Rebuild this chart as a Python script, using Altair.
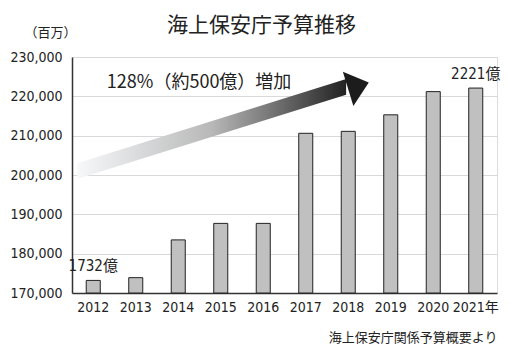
import altair as alt
import pandas as pd

# ---- data ----
years = ["2012", "2013", "2014", "2015", "2016", "2017", "2018", "2019", "2020", "2021年"]
budget = [173200, 173900, 183500, 187700, 187700, 210600, 211100, 215300, 221200, 222100]
bar_labels = ["1732億", "", "", "", "", "", "", "", "", "2221億"]
y_ticks = [170000, 180000, 190000, 200000, 210000, 220000, 230000]

title_text = "海上保安庁予算推移"
unit_text = "（百万）"
source_text = "海上保安庁関係予算概要より"
arrow_text = "128%（約500億）増加"

# arrow annotation in data units (x: band index 0..10, y: 百万円)
arrow_x = [0.12, 6.45]
arrow_low = [199000, 220400]
arrow_high = [203000, 224400]
head_x = [6.74]
head_y = [222700]
text_x = [0.82]
text_y = [223400]

NUM_FONT = "Liberation Sans Narrow, DejaVu Sans Condensed, Noto Sans CJK JP"
JP_FONT = "Noto Sans CJK JP"

bars_df = pd.DataFrame({"year": years, "value": budget, "label": bar_labels})
shaft_df = pd.DataFrame({"ax": arrow_x, "lo": arrow_low, "hi": arrow_high})
head_df = pd.DataFrame({"ax": head_x, "ay": head_y})
text_df = pd.DataFrame({"ax": text_x, "ay": text_y, "t": [arrow_text]})

yscale = alt.Scale(domain=[170000, 230000], zero=False, nice=False)
xq = alt.X("ax:Q", scale=alt.Scale(domain=[0, 10], nice=False, zero=False), axis=None)

y_axis = alt.Axis(title=unit_text, values=y_ticks, tickCount=7,
                  format=",d", labelFont=NUM_FONT, labelFontSize=14,
                  labelColor="#222", labelPadding=10, labelOverlap=False,
                  ticks=False, tickSize=0,
                  domainColor="#333", domainWidth=1.5,
                  gridColor="#d9d9d9", gridWidth=1,
                  titleAngle=0, titleFont=JP_FONT, titleFontSize=13,
                  titleFontWeight="normal", titleColor="#222",
                  titleX=-22, titleY=-25, titleAlign="center",
                  titleBaseline="middle")

bars = alt.Chart(bars_df).mark_bar(
    fill="#c0c0c0", stroke="#222222", strokeWidth=1
).encode(
    x=alt.X("year:N", sort=years,
            scale=alt.Scale(paddingInner=0.67, paddingOuter=0.335),
            axis=alt.Axis(title=source_text, labelAngle=0, labelFont=NUM_FONT,
                          labelFontSize=14, labelColor="#222", labelPadding=7,
                          labelOverlap=False,
                          ticks=False, tickSize=0, domainColor="#333", domainWidth=1.5,
                          titleFont=JP_FONT, titleFontSize=13, titleFontWeight="normal",
                          titleColor="#222", titleX=425, titleY=44, titleAlign="right",
                          titleBaseline="middle", titleAnchor="end")),
    y=alt.Y("value:Q", scale=yscale, axis=y_axis),
    y2=alt.datum(170000),
)

bar_text = alt.Chart(bars_df).mark_text(
    font=NUM_FONT, fontSize=15, color="#222", baseline="bottom", dy=-6
).encode(
    x=alt.X("year:N", sort=years),
    y=alt.Y("value:Q", scale=yscale, axis=y_axis),
    text="label:N",
)

shaft = alt.Chart(shaft_df).mark_area(
    color=alt.Gradient(
        gradient="linear",
        stops=[alt.GradientStop(color="#f6f8fa", offset=0),
               alt.GradientStop(color="#b8b8b8", offset=0.5),
               alt.GradientStop(color="#222222", offset=1)],
        x1=0, x2=1, y1=0, y2=0),
    interpolate="linear",
).encode(
    x=xq,
    y=alt.Y("lo:Q", scale=yscale, axis=y_axis),
    y2="hi:Q",
)

head = alt.Chart(head_df).mark_point(
    shape="M-0.6,-1L0.6,0L-0.6,1Z", filled=True, fill="#1c1c1c", opacity=1,
    size=1296, angle=343, strokeWidth=0
).encode(
    x=xq,
    y=alt.Y("ay:Q", scale=yscale, axis=y_axis),
)

atext = alt.Chart(text_df).mark_text(
    font=JP_FONT, fontSize=18, color="#222", align="left", baseline="middle"
).encode(
    x=xq,
    y=alt.Y("ay:Q", scale=yscale, axis=y_axis),
    text="t:N",
)

arrow_layer = alt.layer(shaft, head, atext)
bar_layer = alt.layer(bars, bar_text)

chart = alt.layer(bar_layer, arrow_layer).resolve_scale(x="independent").properties(
    width=425, height=236,
    autosize=alt.AutoSizeParams(type="none"),
    padding={"left": 72, "top": 57, "right": 11, "bottom": 59},
    title=alt.TitleParams(title_text, font=JP_FONT, fontSize=21, fontWeight="normal",
                          color="#222", anchor="middle", dx=-23, offset=-10),
).configure_view(stroke=None).configure(background="white")

chart.save("out.html", embed_options={"renderer": "svg", "actions": False})
